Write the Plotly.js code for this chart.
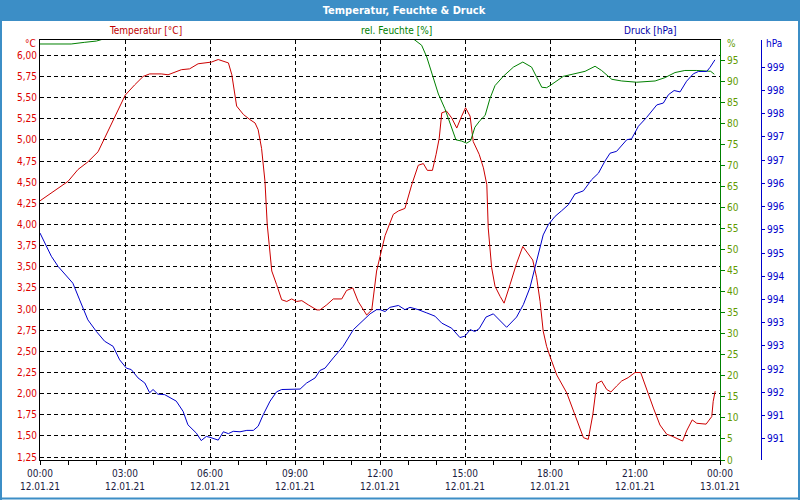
<!DOCTYPE html>
<html>
<head>
<meta charset="utf-8">
<script src="https://cdn.plot.ly/plotly-3.0.1.min.js"></script>
<style>html,body{margin:0;padding:0;background:#fff;}#chart{width:800px;height:500px;}</style>
</head>
<body>
<div id="chart"></div>
<script>
// ---- data (hours since 12.01.21 00:00) ----
const tempHours = [
  0.00, 0.40, 0.99, 1.34, 1.69, 2.05, 2.28, 2.52, 2.75, 3.01,
  3.34, 3.64, 3.87, 4.28, 4.52, 4.99, 5.28, 5.58, 6.05, 6.29,
  6.65, 6.77, 6.94, 7.18, 7.41, 7.59, 7.70, 7.82, 7.94, 8.02,
  8.09, 8.18, 8.35, 8.53, 8.71, 8.88, 9.06, 9.24, 9.47, 9.77,
  9.88, 10.12, 10.35, 10.65, 10.82, 11.04, 11.23, 11.53, 11.71, 11.88,
  12.00, 12.18, 12.47, 12.65, 12.88, 13.12, 13.35, 13.53, 13.67, 13.85,
  13.98, 14.09, 14.18, 14.35, 14.53, 14.71, 14.88, 15.02, 15.18, 15.29,
  15.50, 15.65, 15.77, 15.82, 15.94, 16.06, 16.24, 16.38, 16.59, 16.82,
  17.04, 17.23, 17.39, 17.53, 17.65, 17.76, 17.88, 18.00, 18.24, 18.59,
  18.88, 19.18, 19.35, 19.51, 19.65, 19.82, 20.00, 20.15, 20.35, 20.53,
  20.76, 21.00, 21.20, 21.41, 21.65, 21.88, 22.12, 22.29, 22.53, 22.68,
  22.82, 23.02, 23.18, 23.51, 23.71, 23.76, 23.83
];
const temperature = [
  4.28, 4.37, 4.51, 4.65, 4.74, 4.86, 5.02, 5.20, 5.36, 5.53,
  5.65, 5.75, 5.78, 5.78, 5.77, 5.83, 5.84, 5.90, 5.92, 5.95,
  5.91, 5.77, 5.40, 5.30, 5.24, 5.20, 5.12, 4.90, 4.51, 4.00,
  3.76, 3.45, 3.29, 3.11, 3.09, 3.12, 3.09, 3.10, 3.05, 2.99,
  2.99, 3.05, 3.12, 3.12, 3.22, 3.25, 3.09, 2.93, 2.99, 3.45,
  3.62, 3.87, 4.12, 4.16, 4.19, 4.47, 4.70, 4.72, 4.64, 4.64,
  4.83, 5.02, 5.32, 5.34, 5.26, 5.14, 5.28, 5.38, 5.28, 4.98,
  4.83, 4.67, 4.47, 3.96, 3.49, 3.27, 3.15, 3.07, 3.29, 3.54,
  3.74, 3.66, 3.58, 3.37, 3.09, 2.74, 2.56, 2.44, 2.22, 2.01,
  1.75, 1.48, 1.46, 1.75, 2.12, 2.15, 2.05, 2.02, 2.09, 2.15,
  2.19, 2.25, 2.25, 2.05, 1.83, 1.63, 1.52, 1.50, 1.46, 1.44,
  1.56, 1.69, 1.65, 1.64, 1.73, 1.91, 2.03
];

const humHours = [
  0.00, 0.75, 1.10, 1.58, 1.99, 2.40, 3.00, 6.00, 9.00, 12.00,
  13.18, 13.47, 13.65, 13.82, 14.06, 14.29, 14.47, 14.68, 14.88, 15.06,
  15.20, 15.35, 15.53, 15.71, 15.88, 16.06, 16.35, 16.71, 17.04, 17.35,
  17.53, 17.71, 17.88, 18.00, 18.47, 18.82, 19.24, 19.59, 19.82, 20.18,
  20.53, 21.06, 21.71, 22.06, 22.41, 22.76, 23.18, 23.67, 23.80
];
const humidity = [
  99.0, 98.9, 99.0, 99.4, 99.7, 100.5, 100.5, 100.5, 100.5, 100.5,
  100.2, 98.7, 95.9, 92.3, 87.1, 83.6, 80.0, 76.2, 75.9, 75.4,
  76.0, 79.2, 80.8, 82.0, 86.0, 89.1, 91.3, 93.5, 94.7, 93.5,
  91.1, 88.7, 88.6, 89.1, 91.3, 91.9, 92.5, 93.7, 92.7, 90.6,
  90.2, 89.9, 90.2, 91.0, 92.2, 92.7, 92.7, 92.5, 91.8
];

const presHours = [
  0.00, 0.22, 0.40, 0.64, 0.93, 1.16, 1.40, 1.69, 1.99, 2.28,
  2.58, 2.81, 3.05, 3.22, 3.46, 3.70, 3.87, 3.99, 4.16, 4.40,
  4.81, 5.05, 5.22, 5.52, 5.69, 5.87, 6.00, 6.29, 6.47, 6.65,
  6.82, 7.06, 7.30, 7.53, 7.70, 7.88, 8.12, 8.35, 8.53, 8.82,
  9.18, 9.41, 9.71, 9.88, 10.06, 10.35, 10.70, 11.06, 11.41, 11.65,
  11.88, 12.00, 12.18, 12.35, 12.65, 12.88, 13.06, 13.35, 13.65, 13.94,
  14.18, 14.53, 14.82, 15.00, 15.18, 15.35, 15.50, 15.74, 16.00, 16.24,
  16.47, 16.82, 17.06, 17.29, 17.53, 17.76, 17.94, 18.18, 18.41, 18.65,
  18.88, 19.18, 19.47, 19.71, 19.94, 20.12, 20.35, 20.71, 20.88, 21.12,
  21.41, 21.77, 22.00, 22.18, 22.38, 22.59, 22.82, 23.06, 23.24, 23.53,
  23.65, 23.82
];
const pressure = [
  995.33, 995.04, 994.83, 994.61, 994.40, 994.25, 993.89, 993.46, 993.21, 993.00,
  992.89, 992.60, 992.42, 992.39, 992.21, 992.10, 991.89, 991.96, 991.86, 991.85,
  991.71, 991.49, 991.20, 991.02, 990.86, 990.95, 990.93, 990.87, 991.05, 991.01,
  991.06, 991.05, 991.08, 991.08, 991.17, 991.42, 991.71, 991.91, 991.96, 991.96,
  991.97, 992.10, 992.21, 992.37, 992.42, 992.64, 992.89, 993.25, 993.46, 993.59,
  993.68, 993.68, 993.64, 993.73, 993.77, 993.68, 993.73, 993.68, 993.61, 993.54,
  993.39, 993.28, 993.08, 993.11, 993.25, 993.21, 993.27, 993.52, 993.59, 993.44,
  993.30, 993.52, 993.79, 994.15, 994.72, 995.29, 995.51, 995.69, 995.81, 995.94,
  996.17, 996.24, 996.48, 996.62, 996.88, 997.05, 997.09, 997.34, 997.36, 997.63,
  997.82, 998.09, 998.13, 998.31, 998.40, 998.37, 998.60, 998.76, 998.81, 998.81,
  998.90, 999.06
];

// ---- tick labels ----
const xTickVals = [0, 3, 6, 9, 12, 15, 18, 21, 24];
const xTickText = [
  "00:00<br>12.01.21", "03:00<br>12.01.21", "06:00<br>12.01.21",
  "09:00<br>12.01.21", "12:00<br>12.01.21", "15:00<br>12.01.21",
  "18:00<br>12.01.21", "21:00<br>12.01.21", "00:00<br>13.01.21"
];
const presTickVals = [998.9, 998.4, 997.9, 997.4, 996.9, 996.4, 995.9, 995.4, 994.9,
                      994.4, 993.9, 993.4, 992.9, 992.4, 991.9, 991.4, 990.9];
const presTickText = ["999", "998", "998", "997", "997", "996", "996", "995", "995",
                      "994", "994", "993", "993", "992", "992", "991", "991"];

// ---- styling ----
const FONT = "Tahoma, 'DejaVu Sans Condensed', 'DejaVu Sans', sans-serif";
const RED = "#cc0000", GREEN = "#008000", BLUE = "#0000cc";
const FRAME = "#3c8ec6";
const W = 800, H = 500, ML = 40, MR = 0, MT = 40, MB = 40;
const PW = W - ML - MR, PH = H - MT - MB;
const px = v => (v - ML) / PW;          // page x -> paper x
const py = v => (H - MB - v) / PH;      // page y -> paper y

const traces = [
  { x: tempHours, y: temperature, type: "scatter", mode: "lines",
    line: { color: RED, width: 1 }, yaxis: "y", name: "Temperatur" },
  { x: humHours, y: humidity, type: "scatter", mode: "lines",
    line: { color: GREEN, width: 1 }, yaxis: "y2", name: "rel. Feuchte" },
  { x: presHours, y: pressure, type: "scatter", mode: "lines",
    line: { color: BLUE, width: 1 }, yaxis: "y3", name: "Druck" }
];

const gridDash = "4px,3px";

const layout = {
  width: W, height: H,
  margin: { l: ML, r: MR, t: MT, b: MB, pad: 0 },
  paper_bgcolor: "#ffffff", plot_bgcolor: "#ffffff",
  showlegend: false, hovermode: false,
  separators: ",.",
  font: { family: FONT, size: 10, color: "#000" },
  title: { text: "<b>Temperatur, Feuchte &amp; Druck</b>",
           font: { family: FONT, size: 11, color: "#ffffff" },
           x: 0.505, xref: "container", y: 1 - 10 / H, yref: "container",
           xanchor: "center", yanchor: "middle" },
  xaxis: {
    domain: [0, (720 - ML) / PW], range: [0, 24],
    tickmode: "array", tickvals: xTickVals, ticktext: xTickText,
    ticks: "outside", ticklen: 4, tickcolor: "#000",
    minor: { dtick: 1, tick0: 0, ticks: "outside", ticklen: 4, tickcolor: "#000", showgrid: false },
    showline: true, linecolor: "#000", linewidth: 1, mirror: true,
    showgrid: true, gridcolor: "#000", gridwidth: 1, griddash: gridDash,
    zeroline: false,
    tickfont: { family: FONT, size: 10, color: "#1a1a40" }
  },
  yaxis: {
    range: [1.216, 6.181], tick0: 0, dtick: 0.25, tickformat: ".2f",
    showline: true, linecolor: "#000", linewidth: 1,
    ticks: "", showgrid: true, gridcolor: "#000", gridwidth: 1, griddash: gridDash,
    zeroline: false,
    tickfont: { family: FONT, size: 10, color: "#dd0000" }
  },
  yaxis2: {
    overlaying: "y", side: "right", anchor: "x",
    range: [0, 99.95], tick0: 0, dtick: 5,
    showline: true, linecolor: GREEN, linewidth: 1,
    ticks: "outside", ticklen: 4, tickcolor: GREEN,
    showgrid: false, zeroline: false,
    tickfont: { family: FONT, size: 10, color: "#5f9a00" }
  },
  yaxis3: {
    overlaying: "y", side: "right", anchor: "free", position: px(761),
    range: [990.442, 999.488],
    tickmode: "array", tickvals: presTickVals, ticktext: presTickText,
    showline: true, linecolor: BLUE, linewidth: 1,
    ticks: "outside", ticklen: 3, tickcolor: BLUE,
    showgrid: false, zeroline: false,
    tickfont: { family: FONT, size: 10, color: BLUE }
  },
  shapes: [
    { type: "rect", xref: "paper", yref: "paper", layer: "below",
      x0: px(0), x1: px(800), y0: py(21), y1: py(0),
      fillcolor: FRAME, line: { width: 0 } },
    { type: "line", xref: "paper", yref: "paper",
      x0: px(1), x1: px(1), y0: py(0), y1: py(500), line: { color: FRAME, width: 2 } },
    { type: "line", xref: "paper", yref: "paper",
      x0: px(799), x1: px(799), y0: py(0), y1: py(500), line: { color: FRAME, width: 2 } },
    { type: "line", xref: "paper", yref: "paper",
      x0: px(0), x1: px(800), y0: py(498.5), y1: py(498.5), line: { color: FRAME, width: 2 } }
  ],
  annotations: [
    { text: "Temperatur [°C]", xref: "paper", yref: "paper", x: px(145), y: py(30),
      xanchor: "center", yanchor: "middle", showarrow: false,
      font: { family: FONT, size: 10, color: "#c00000" } },
    { text: "rel. Feuchte [%]", xref: "paper", yref: "paper", x: px(396), y: py(30),
      xanchor: "center", yanchor: "middle", showarrow: false,
      font: { family: FONT, size: 10, color: GREEN } },
    { text: "Druck [hPa]", xref: "paper", yref: "paper", x: px(650), y: py(30),
      xanchor: "center", yanchor: "middle", showarrow: false,
      font: { family: FONT, size: 10, color: "#0000aa" } },
    { text: "°C", xref: "paper", yref: "paper", x: px(38), y: py(44),
      xanchor: "right", yanchor: "middle", showarrow: false,
      font: { family: FONT, size: 10, color: "#dd0000" } },
    { text: "%", xref: "paper", yref: "paper", x: px(725), y: py(44),
      xanchor: "left", yanchor: "middle", showarrow: false,
      font: { family: FONT, size: 10, color: "#5f9a00" } },
    { text: "hPa", xref: "paper", yref: "paper", x: px(764), y: py(44),
      xanchor: "left", yanchor: "middle", showarrow: false,
      font: { family: FONT, size: 10, color: BLUE } }
  ]
};

Plotly.newPlot("chart", traces, layout, { staticPlot: true, displayModeBar: false });
</script>
</body>
</html>
